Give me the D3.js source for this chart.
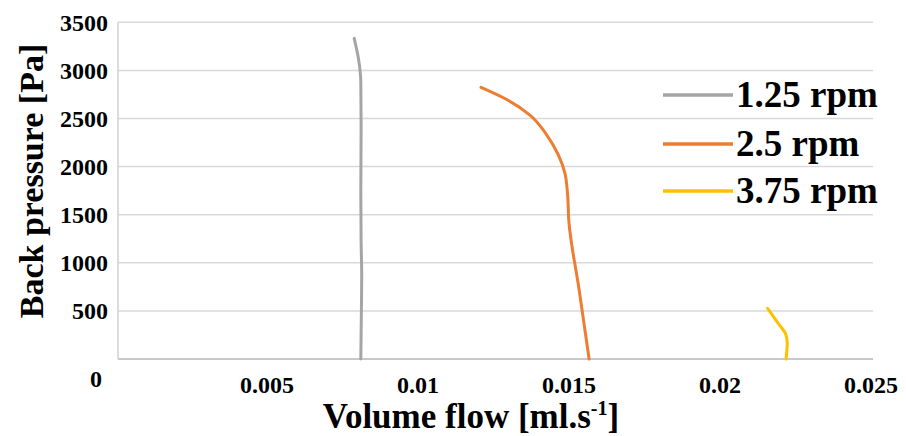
<!DOCTYPE html>
<html><head><meta charset="utf-8">
<script src="https://cdn.jsdelivr.net/npm/d3@7"></script>
<style>body{margin:0;background:#fff}svg{display:block}</style>
</head><body><svg id="c" width="906" height="436"></svg>
<script>
const seriesNames = ["1.25 rpm", "2.5 rpm", "3.75 rpm"];
const seriesColors = ["#a5a5a5", "#ed7d31", "#ffc000"];
const flow125 = [0.00782, 0.00796, 0.00804, 0.00805, 0.00804, 0.00805, 0.00807, 0.00806, 0.00804];
const press125 = [3333, 3126, 2883, 2432, 1739, 1219, 873, 527, 0];
const flow25 = [0.01202, 0.01276, 0.01364, 0.01420, 0.01458, 0.01480, 0.01488, 0.01493, 0.01527, 0.01560];
const press25 = [2824, 2716, 2536, 2328, 2121, 1930, 1739, 1427, 717, 0];
const flow375 = [0.02151, 0.02186, 0.02212, 0.02216, 0.02212];
const press375 = [527, 371, 249, 163, 0];
const xTicks = [0.005, 0.01, 0.015, 0.02, 0.025];
const yTicks = [500, 1000, 1500, 2000, 2500, 3000, 3500];
const originLabel = "0";
const xTitle = "Volume flow [ml.s";
const yTitle = "Back pressure [Pa]";

const svg = d3.select("#c");
const font = "'Liberation Serif', 'Times New Roman', serif";
const L = 118, R = 873, T = 22.3, B = 359;
const x = d3.scaleLinear().domain([0, 0.025]).range([L, R]);
const y = d3.scaleLinear().domain([0, 3500]).range([B, T]);

// gridlines
svg.append("g").selectAll("line").data(yTicks).join("line")
  .attr("x1", L).attr("x2", R).attr("y1", d => y(d)).attr("y2", d => y(d))
  .attr("stroke", "#d9d9d9").attr("stroke-width", 1.5);
// axes lines
svg.append("line").attr("x1", L).attr("x2", R).attr("y1", y(0)).attr("y2", y(0))
  .attr("stroke", "#c8c8c8").attr("stroke-width", 1.8);
svg.append("line").attr("x1", L).attr("x2", L).attr("y1", y(0)).attr("y2", y(3500))
  .attr("stroke", "#d0d0d0").attr("stroke-width", 1.5);

// y tick labels
svg.append("g").selectAll("text").data(yTicks).join("text")
  .attr("x", 108).attr("y", d => y(d)).attr("dy", "0.35em")
  .attr("text-anchor", "end").attr("font-family", font).attr("font-weight", "bold")
  .attr("font-size", 24).text(d => d);
// origin label
svg.append("text").attr("x", 96).attr("y", 387).attr("text-anchor", "middle")
  .attr("font-family", font).attr("font-weight", "bold").attr("font-size", 24).text(originLabel);
// x tick labels
svg.append("g").selectAll("text").data(xTicks).join("text")
  .attr("x", d => x(d) - 2).attr("y", 393).attr("text-anchor", "middle")
  .attr("font-family", font).attr("font-weight", "bold").attr("font-size", 24)
  .text(d => d);

// series
const series = [
  {f: flow125, p: press125},
  {f: flow25, p: press25},
  {f: flow375, p: press375}
];
const line = d3.line().x(d => x(d[0])).y(d => y(d[1])).curve(d3.curveMonotoneY);
series.forEach((s, i) => {
  const pts = s.f.map((v, j) => [v, s.p[j]]);
  svg.append("path").attr("d", line(pts)).attr("fill", "none")
    .attr("stroke", seriesColors[i]).attr("stroke-width", 3).attr("stroke-linecap", "round");
});

// legend
const legY = [95, 144, 191];
seriesNames.forEach((n, i) => {
  svg.append("line").attr("x1", 663).attr("x2", 733).attr("y1", legY[i]).attr("y2", legY[i])
    .attr("stroke", seriesColors[i]).attr("stroke-width", 3.5);
  svg.append("text").attr("x", 736).attr("y", legY[i] + 12)
    .attr("font-family", font).attr("font-weight", "bold").attr("font-size", 37).text(n);
});

// axis titles
const xt = svg.append("text").attr("x", 471).attr("y", 428).attr("text-anchor", "middle")
  .attr("font-family", font).attr("font-weight", "bold").attr("font-size", 35);
xt.append("tspan").text(xTitle);
xt.append("tspan").attr("font-size", 20).attr("dy", -13).text("-1");
xt.append("tspan").attr("dy", 13).text("]");
svg.append("text").attr("transform", "translate(43,181) rotate(-90)").attr("text-anchor", "middle")
  .attr("font-family", font).attr("font-weight", "bold").attr("font-size", 34).text(yTitle);
</script></body></html>
